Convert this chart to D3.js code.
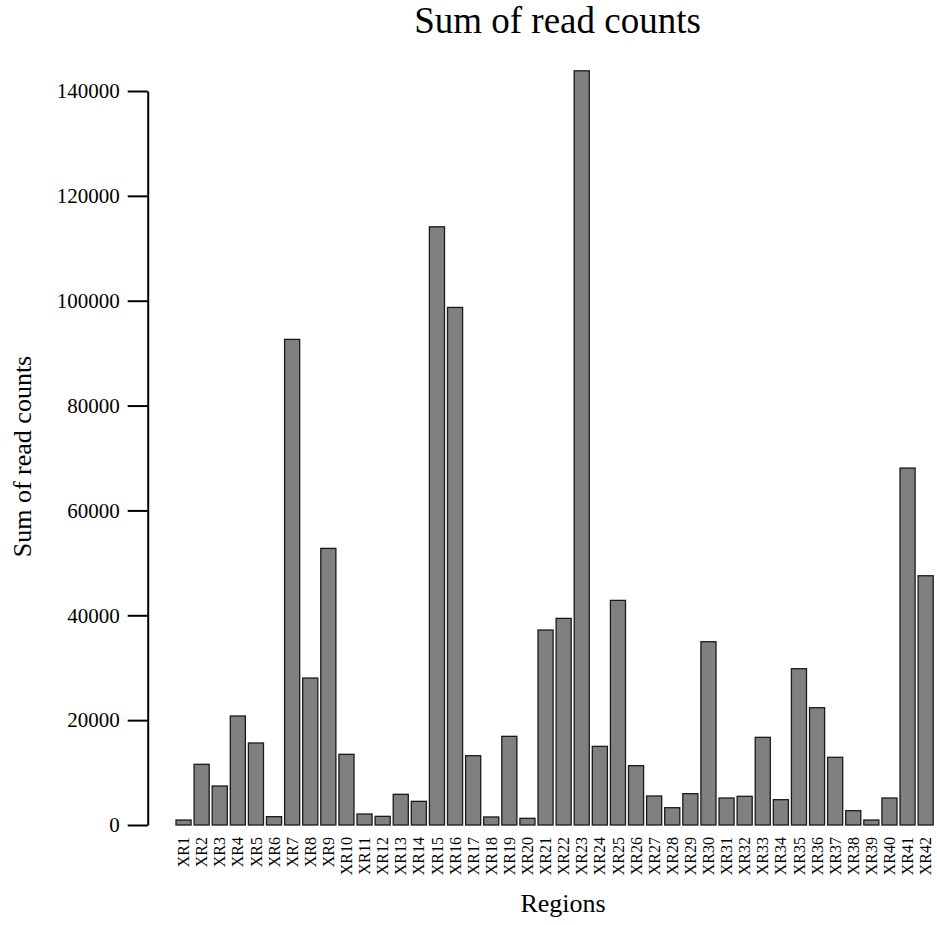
<!DOCTYPE html>
<html>
<head>
<meta charset="utf-8">
<script src="https://cdn.jsdelivr.net/npm/d3@7"></script>
<style>
  body { margin: 0; background: white; }
  svg text { font-family: "Liberation Serif", "Times New Roman", serif; fill: black; }
</style>
</head>
<body>
<div class="canvas"></div>
<script>
// data
const regions = ["XR1","XR2","XR3","XR4","XR5","XR6","XR7","XR8","XR9","XR10",
  "XR11","XR12","XR13","XR14","XR15","XR16","XR17","XR18","XR19","XR20",
  "XR21","XR22","XR23","XR24","XR25","XR26","XR27","XR28","XR29","XR30",
  "XR31","XR32","XR33","XR34","XR35","XR36","XR37","XR38","XR39","XR40",
  "XR41","XR42"];
const readSums = [950, 11580, 7440, 20790, 15640, 1590, 92620, 28030, 52760, 13480,
  2100, 1650, 5850, 4510, 114100, 98720, 13220, 1530, 16910, 1270,
  37190, 39410, 143850, 15000, 42840, 11320, 5530, 3300, 5980, 34960,
  5150, 5470, 16720, 4830, 29810, 22370, 12910, 2730, 950, 5150,
  68080, 47540];
const yTicks = [0, 20000, 40000, 60000, 80000, 100000, 120000, 140000];

const width = 937, height = 925;

const svg = d3.select(".canvas")
  .append("svg")
    .attr("width", width)
    .attr("height", height);

const x = d3.scaleBand()
    .domain(regions)
    .range([176, 933.2])
    .paddingInner(1 / 6)
    .paddingOuter(0);

const y = d3.scaleLinear()
    .domain([0, 140000])
    .range([825, 91]);

// bars
svg.append("g")
  .selectAll("rect")
  .data(regions)
  .enter()
  .append("rect")
    .attr("x", d => x(d))
    .attr("y", (d, i) => y(readSums[i]))
    .attr("width", x.bandwidth())
    .attr("height", (d, i) => y(0) - y(readSums[i]))
    .attr("fill", "#808080")
    .attr("stroke", "#1a1a1a")
    .attr("stroke-width", 1.3);

// y axis
const yAxis = d3.axisLeft(y)
    .tickValues(yTicks)
    .tickFormat(d3.format("d"))
    .tickSize(20)
    .tickSizeOuter(0)
    .tickPadding(8);

const yAxisGroup = svg.append("g")
    .attr("transform", "translate(147.7,0)")
    .call(yAxis);
yAxisGroup.selectAll("path, line")
    .attr("stroke", "black")
    .attr("stroke-width", 2);
yAxisGroup.selectAll("text")
    .style("font-size", "21px")
    .style("font-family", "'Liberation Serif', 'Times New Roman', serif");

// x labels, rotated like las = 2
svg.append("g")
  .selectAll("text")
  .data(regions)
  .enter()
  .append("text")
    .attr("transform", d => `translate(${x(d) + x.bandwidth() / 2},837) rotate(-90)`)
    .attr("dy", "0.35em")
    .attr("text-anchor", "end")
    .style("font-size", "16px")
    .text(d => d);

// titles
svg.append("text")
    .attr("x", 557.5)
    .attr("y", 33)
    .attr("text-anchor", "middle")
    .style("font-size", "37px")
    .text("Sum of read counts");

svg.append("text")
    .attr("transform", "translate(31,456.5) rotate(-90)")
    .attr("text-anchor", "middle")
    .style("font-size", "26px")
    .text("Sum of read counts");

svg.append("text")
    .attr("x", 563)
    .attr("y", 912)
    .attr("text-anchor", "middle")
    .style("font-size", "26px")
    .text("Regions");
</script>
</body>
</html>
